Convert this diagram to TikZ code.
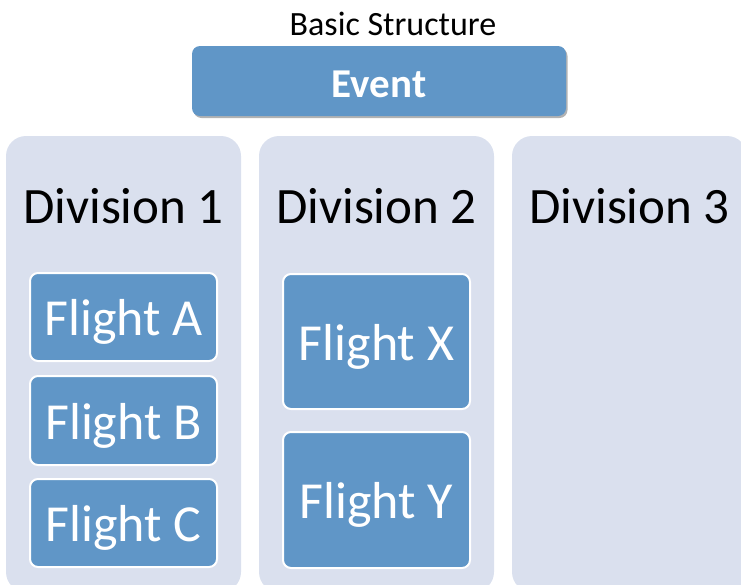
\documentclass[tikz,border=0pt]{standalone}
\usepackage{fontspec}
\setmainfont{Carlito}
\usetikzlibrary{shadows}
\definecolor{boxblue}{RGB}{96,150,199}
\definecolor{colfill}{RGB}{218,224,238}
\begin{document}
\begin{tikzpicture}[x=1pt,y=-1pt,
  colbox/.style={fill=colfill,rounded corners=20pt,minimum width=235pt,minimum height=456pt,inner sep=0pt,outer sep=0pt},
  flightbox/.style={fill=boxblue,draw=white,line width=2pt,rounded corners=8pt,minimum width=187pt,inner sep=0pt,outer sep=0pt,text=white,text height=37pt,text depth=0pt,font=\fontsize{52}{60}\selectfont},
  divlabel/.style={anchor=base,font=\fontsize{51}{60}\selectfont,inner sep=0pt},
  eventbox/.style={fill=boxblue,rounded corners=8pt,minimum width=374pt,minimum height=70pt,inner sep=0pt,text=white,text height=32pt,text depth=0pt,font=\fontsize{41}{48}\selectfont\bfseries,
    drop shadow={shadow xshift=1.5pt,shadow yshift=-2pt,opacity=0.3,fill=black}}]
\useasboundingbox (0,0) rectangle (741,584);
\begin{scope}
\clip (0,0) rectangle (741,584);
\node[colbox] (c1) at (123.5,364) {};
\node[colbox] (c2) at (376.5,364) {};
\node[colbox] (c3) at (629.5,364) {};
\node[divlabel] (d1) at (123.5,223) {Division 1};
\node[divlabel] (d2) at (376.5,223) {Division 2};
\node[divlabel] (d3) at (629.5,223) {Division 3};
\node[flightbox,minimum height=88pt] (fa) at (123.5,317) {Flight A};
\node[flightbox,minimum height=89pt] (fb) at (123.5,420.5) {Flight B};
\node[flightbox,minimum height=88pt] (fc) at (123.5,523) {Flight C};
\node[flightbox,minimum height=135pt] (fx) at (376.5,341.5) {Flight X};
\node[flightbox,minimum height=136pt] (fy) at (376.5,500) {Flight Y};
\node[eventbox] (ev) at (379,81) {Event};
\node[anchor=base,inner sep=0pt,font=\fontsize{34}{40}\selectfont] (title) at (393,35) {Basic Structure};
\end{scope}
\end{tikzpicture}
\end{document}
